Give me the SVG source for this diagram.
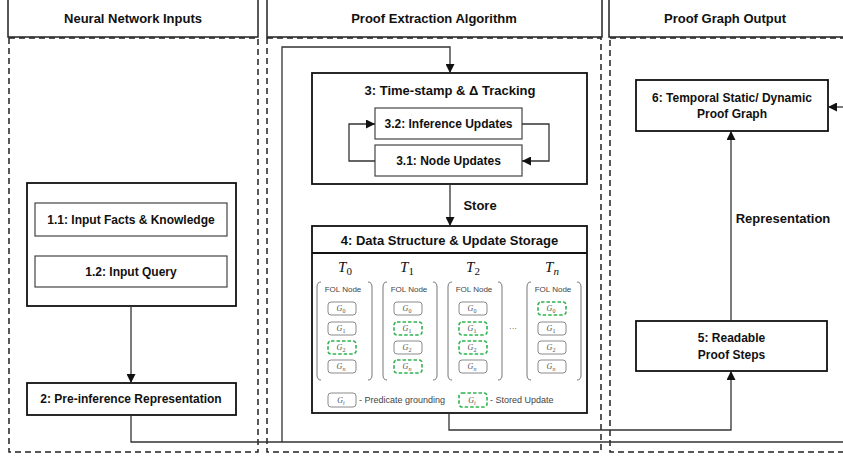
<svg xmlns="http://www.w3.org/2000/svg" width="843" height="456" viewBox="0 0 843 456">
<defs>
<marker id="ah" viewBox="0 0 10 10" refX="10" refY="5" markerWidth="9" markerHeight="9" markerUnits="userSpaceOnUse" orient="auto"><path d="M0,0 L10,5 L0,10 z" fill="#111"/></marker>
<style>
.hdr{fill:#fff;stroke:#222;stroke-width:1.5}
.panel{fill:none;stroke:#222;stroke-width:1.5;stroke-dasharray:6 4}
.box{fill:#fff;stroke:#111;stroke-width:1.8}
.sub{fill:#fff;stroke:#444;stroke-width:1.2}
.conn{fill:none;stroke:#333;stroke-width:1.3}
.th{font-family:"Liberation Sans",Arial,sans-serif;font-weight:bold;font-size:13px;text-anchor:middle;fill:#111}
.tl{font-family:"Liberation Sans",Arial,sans-serif;font-weight:bold;font-size:12px;text-anchor:middle;fill:#111}
.g{fill:#fff;stroke:#8a8a8a;stroke-width:1}
.gd{fill:#fff;stroke:#2eb34f;stroke-width:1.6;stroke-dasharray:3.5 2}
.gt{font-family:"Liberation Serif",serif;font-style:italic;font-size:8px;fill:#555;text-anchor:middle}
.br{fill:none;stroke:#777;stroke-width:1}
.sm{font-family:"Liberation Sans",Arial,sans-serif;font-size:8px;fill:#444;text-anchor:middle}
.lg{font-family:"Liberation Sans",Arial,sans-serif;font-size:9px;fill:#444}
.tt{font-family:"Liberation Serif",serif;font-style:italic;font-size:15px;fill:#111;text-anchor:middle}
</style>
</defs>

<g id="headers">
<rect class="hdr" x="8" y="-5" width="250" height="42"/>
<rect class="hdr" x="267" y="-5" width="335" height="42"/>
<rect class="hdr" x="609" y="-5" width="250" height="42"/>
<text class="th" x="133" y="23">Neural Network Inputs</text>
<text class="th" x="434" y="23">Proof Extraction Algorithm</text>
<text class="th" x="725" y="23">Proof Graph Output</text>
</g>

<g id="panels">
<rect class="panel" x="9" y="38" width="249" height="414"/>
<rect class="panel" x="267" y="38" width="334" height="414"/>
<rect class="panel" x="610" y="38" width="250" height="414"/>
</g>

<g id="node1">
<rect class="box" x="27" y="183" width="209" height="123"/>
</g>
<g id="node1-1">
<rect class="sub" x="35" y="203" width="192" height="33"/>
<text class="tl" x="131" y="224">1.1: Input Facts &amp; Knowledge</text>
</g>
<g id="node1-2">
<rect class="sub" x="35" y="256" width="192" height="31"/>
<text class="tl" x="131" y="276">1.2: Input Query</text>
</g>
<g id="node2">
<rect class="box" x="27" y="383" width="209" height="32"/>
<text class="tl" x="131" y="403">2: Pre-inference Representation</text>
</g>

<g id="node3">
<rect class="box" x="312" y="73" width="275" height="111"/>
<text class="th" x="450" y="95" font-size="13.5">3: Time-stamp &amp; Δ Tracking</text>
</g>
<g id="node3-2">
<rect class="sub" x="375" y="108" width="147" height="31"/>
<text class="tl" x="448.5" y="128">3.2: Inference Updates</text>
</g>
<g id="node3-1">
<rect class="sub" x="375" y="145" width="147" height="31"/>
<text class="tl" x="448.5" y="165">3.1: Node Updates</text>
</g>

<g id="node4">
<rect class="box" x="312" y="226" width="275" height="187"/>
<line x1="312" y1="253" x2="587" y2="253" stroke="#111" stroke-width="1.8"/>
<text class="th" x="449.5" y="245" font-size="13.5">4: Data Structure &amp; Update Storage</text>

<text class="tt" x="345" y="272">T<tspan font-style="normal" font-size="11" dy="3">0</tspan></text>
<text class="tt" x="407" y="272">T<tspan font-style="normal" font-size="11" dy="3">1</tspan></text>
<text class="tt" x="473" y="272">T<tspan font-style="normal" font-size="11" dy="3">2</tspan></text>
<text class="tt" x="552" y="272">T<tspan font-size="11" dy="3">n</tspan></text>

<path class="br" d="M321,282 Q317,282 317,287 V375 Q317,380 321,380 M368,282 Q372,282 372,287 V375 Q372,380 368,380"/>
<path class="br" d="M387,282 Q383,282 383,287 V375 Q383,380 387,380 M433,282 Q437,282 437,287 V375 Q437,380 433,380"/>
<path class="br" d="M452,282 Q448,282 448,287 V375 Q448,380 452,380 M498,282 Q502,282 502,287 V375 Q502,380 498,380"/>
<path class="br" d="M531,282 Q527,282 527,287 V375 Q527,380 531,380 M577,282 Q581,282 581,287 V375 Q581,380 577,380"/>

<text class="sm" x="343" y="292">FOL Node</text>
<text class="sm" x="409" y="292">FOL Node</text>
<text class="sm" x="474" y="292">FOL Node</text>
<text class="sm" x="553" y="292">FOL Node</text>

<rect class="g" x="328" y="302" width="28" height="13" rx="3"/>
<rect class="g" x="328" y="322" width="28" height="13" rx="3"/>
<rect class="gd" x="328" y="341" width="28" height="13" rx="3"/>
<rect class="g" x="328" y="360" width="28" height="13" rx="3"/>

<rect class="g" x="394" y="302" width="28" height="13" rx="3"/>
<rect class="gd" x="394" y="322" width="28" height="13" rx="3"/>
<rect class="g" x="394" y="341" width="28" height="13" rx="3"/>
<rect class="gd" x="394" y="360" width="28" height="13" rx="3"/>

<rect class="g" x="459" y="302" width="28" height="13" rx="3"/>
<rect class="gd" x="459" y="322" width="28" height="13" rx="3"/>
<rect class="gd" x="459" y="341" width="28" height="13" rx="3"/>
<rect class="g" x="459" y="360" width="28" height="13" rx="3"/>

<rect class="gd" x="538" y="302" width="28" height="13" rx="3"/>
<rect class="g" x="538" y="322" width="28" height="13" rx="3"/>
<rect class="g" x="538" y="341" width="28" height="13" rx="3"/>
<rect class="g" x="538" y="360" width="28" height="13" rx="3"/>

<text class="gt" x="341" y="311">G<tspan font-style="normal" font-size="6" dy="2">0</tspan></text>
<text class="gt" x="341" y="331">G<tspan font-style="normal" font-size="6" dy="2">1</tspan></text>
<text class="gt" x="341" y="350">G<tspan font-style="normal" font-size="6" dy="2">2</tspan></text>
<text class="gt" x="341" y="369">G<tspan font-size="6" dy="2">n</tspan></text>

<text class="gt" x="407" y="311">G<tspan font-style="normal" font-size="6" dy="2">0</tspan></text>
<text class="gt" x="407" y="331">G<tspan font-style="normal" font-size="6" dy="2">1</tspan></text>
<text class="gt" x="407" y="350">G<tspan font-style="normal" font-size="6" dy="2">2</tspan></text>
<text class="gt" x="407" y="369">G<tspan font-size="6" dy="2">n</tspan></text>

<text class="gt" x="472" y="311">G<tspan font-style="normal" font-size="6" dy="2">0</tspan></text>
<text class="gt" x="472" y="331">G<tspan font-style="normal" font-size="6" dy="2">1</tspan></text>
<text class="gt" x="472" y="350">G<tspan font-style="normal" font-size="6" dy="2">2</tspan></text>
<text class="gt" x="472" y="369">G<tspan font-size="6" dy="2">n</tspan></text>

<text class="gt" x="551" y="311">G<tspan font-style="normal" font-size="6" dy="2">0</tspan></text>
<text class="gt" x="551" y="331">G<tspan font-style="normal" font-size="6" dy="2">1</tspan></text>
<text class="gt" x="551" y="350">G<tspan font-style="normal" font-size="6" dy="2">2</tspan></text>
<text class="gt" x="551" y="369">G<tspan font-size="6" dy="2">n</tspan></text>

<text class="sm" x="513" y="331" font-size="10">···</text>

<rect class="g" x="328" y="393" width="28" height="14" rx="3"/>
<text class="gt" x="341" y="403">G<tspan font-size="6" dy="2">i</tspan></text>
<text class="lg" x="359" y="403">- Predicate grounding</text>
<rect class="gd" x="459" y="393" width="28" height="14" rx="3"/>
<text class="gt" x="472" y="403">G<tspan font-size="6" dy="2">i</tspan></text>
<text class="lg" x="490" y="403">- Stored Update</text>
</g>

<g id="node5">
<rect class="box" x="636" y="321" width="191" height="50"/>
<text class="tl" x="731.5" y="342">5: Readable</text>
<text class="tl" x="731.5" y="359">Proof Steps</text>
</g>
<g id="node6">
<rect class="box" x="636" y="80" width="192" height="51"/>
<text class="tl" x="732" y="102">6: Temporal Static/ Dynamic</text>
<text class="tl" x="732" y="118">Proof Graph</text>
</g>

<g id="connectors">
<path class="conn" d="M131,306 V383" marker-end="url(#ah)"/>
<path class="conn" d="M131,415 V442 H843"/>
<path class="conn" d="M282,442 V47 H450 V73" marker-end="url(#ah)"/>
<path class="conn" d="M375,161 H349 V124 H375" marker-end="url(#ah)"/>
<path class="conn" d="M522,124 H549 V161 H522" marker-end="url(#ah)"/>
<path class="conn" d="M450,184 V226" marker-end="url(#ah)"/>
<path class="conn" d="M449,413 V430 H731 V371" marker-end="url(#ah)"/>
<path class="conn" d="M731,321 V131" marker-end="url(#ah)"/>
<path class="conn" d="M843,107 H828" marker-end="url(#ah)"/>
<text class="th" x="480" y="210">Store</text>
<text class="th" x="783" y="223">Representation</text>
</g>
</svg>
